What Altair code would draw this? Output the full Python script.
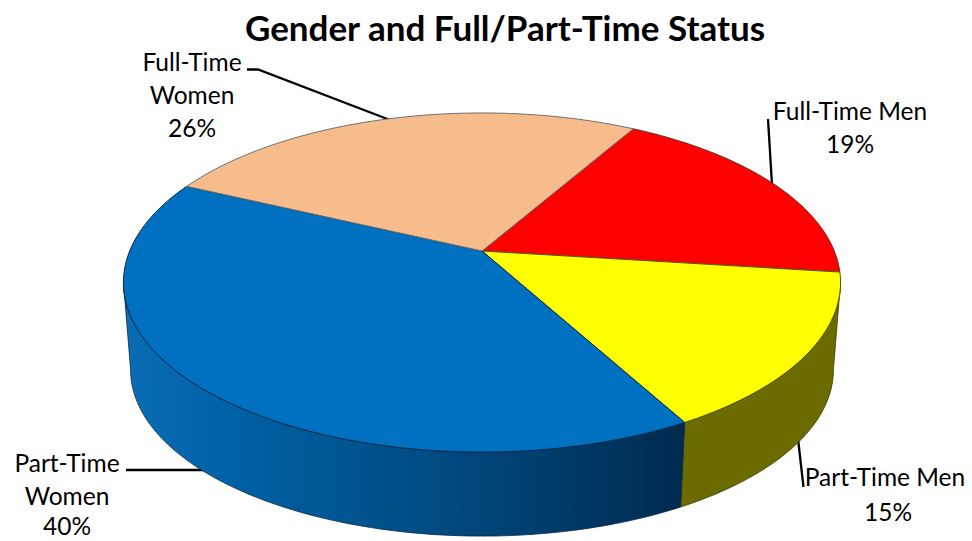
import math
import altair as alt
import pandas as pd

# ---- chart values
slices = ["Full-Time Men", "Part-Time Men", "Part-Time Women", "Full-Time Women"]
shares = [18.7, 15.0, 40.0, 26.3]
top_fill = ["#ff0000", "#ffff00", "#0070c0", "#f6bc8c"]
edge_col = ["#5a3a30", "#55550a", "#04284c", "#6e6e6e"]
first_angle = 29.9  # degrees clockwise from the back of the pie

# ---- 3D view of the pie, in page pixels
CX, CY_TOP, CY_BOT = 482.0, 251.0, 339.0
A_TOP, B_TOP = 352.3, 163.7
SHRINK = 0.98
PERSP = 0.186
W, H = 956, 532
# where the rim of the pie turns away from the viewer
RIM_RIGHT, RIM_LEFT = 100.7, 259.3


def project(theta, cy, k):
    r = math.radians(theta)
    u, v = math.sin(r), -math.cos(r)
    w = 1 - PERSP * v
    return CX + k * A_TOP * u / w, cy + k * B_TOP * v / w


def arc(a, b, cy, k, step=1.0):
    n = max(2, int(abs(b - a) / step) + 1)
    return [project(a + (b - a) * i / (n - 1), cy, k) for i in range(n)]


def frame(pts):
    return pd.DataFrame(
        {"x": [p[0] for p in pts], "y": [p[1] for p in pts], "o": list(range(len(pts)))}
    )


xs = alt.X("x:Q", axis=None, scale=alt.Scale(domain=[8, 8 + W], range=[0, W], nice=False, zero=False))
ys = alt.Y("y:Q", axis=None, scale=alt.Scale(domain=[8 + H, 8], range=[H, 0], nice=False, zero=False))


def poly(pts, **mark):
    return alt.Chart(frame(pts)).mark_line(interpolate="linear", **mark).encode(x=xs, y=ys, order="o:Q")


edges = [first_angle]
for s in shares:
    edges.append(edges[-1] + s * 3.6)

layers = []

# ---- leader lines, underneath the pie
leaders = [
    [(247, 69.5), (258, 69.5), (390, 120)],
    [(768, 119), (772, 185)],
    [(797, 430), (803.5, 487)],
    [(126, 470), (214, 470)],
]
for pts in leaders:
    layers.append(poly(pts, stroke="black", strokeWidth=2.3))

# ---- outer wall: olive part of the yellow slice, gradient part of the blue slice
wall_yellow = arc(RIM_RIGHT, edges[2], CY_TOP, 1) + arc(edges[2], RIM_RIGHT, CY_BOT, SHRINK)
layers.append(poly(wall_yellow + wall_yellow[:1], fill="#6b6b00", stroke="#3a3a00", strokeWidth=0.8))

wall_stops = [
    (0.0, "#0a6db5"),
    (0.22, "#005fa3"),
    (0.5, "#004f88"),
    (0.75, "#003d6c"),
    (1.0, "#002a4e"),
]
wall_grad = alt.Gradient(
    gradient="linear",
    x1=0, x2=1, y1=0, y2=0,
    stops=[alt.GradientStop(offset=o, color=c) for o, c in wall_stops],
)
wall_blue = arc(edges[2], RIM_LEFT, CY_TOP, 1) + arc(RIM_LEFT, edges[2], CY_BOT, SHRINK)
layers.append(poly(wall_blue + wall_blue[:1], fill=wall_grad, stroke="#06284a", strokeWidth=0.8))

# ---- top face
for i, name in enumerate(slices):
    pts = [project(0, CY_TOP, 0)] + arc(edges[i], edges[i + 1], CY_TOP, 1) + [project(0, CY_TOP, 0)]
    layers.append(poly(pts, fill=top_fill[i], stroke=edge_col[i], strokeWidth=1))

# ---- text
title_text = "Gender and Full/Part-Time Status"
label_lines = [
    ("Full-Time", 192, 64), ("Women", 192, 97), ("26%", 192, 130),
    ("Full-Time Men", 850, 113), ("19%", 850, 146),
    ("Part-Time", 67, 465), ("Women", 67, 498), ("40%", 67, 528),
    ("Part-Time Men", 885, 479), ("15%", 888, 514),
]
FONT = "Lato"
layers.append(
    alt.Chart(pd.DataFrame({"t": [title_text], "x": [505], "y": [30]}))
    .mark_text(font=FONT, fontSize=35, fontWeight="bold", color="black", align="center", baseline="middle")
    .encode(x=xs, y=ys, text="t:N")
)
layers.append(
    alt.Chart(pd.DataFrame(label_lines, columns=["t", "x", "y"]))
    .mark_text(font=FONT, fontSize=24.5, color="black", align="center", baseline="middle")
    .encode(x=xs, y=ys, text="t:N")
)

chart = (
    alt.layer(*layers)
    .properties(width=W, height=H, padding=0, background="white",
                autosize=alt.AutoSizeParams(type="none", contains="padding"))
    .configure_view(stroke=None)
)
chart.save("out.html", embed_options={"renderer": "svg", "actions": False})
